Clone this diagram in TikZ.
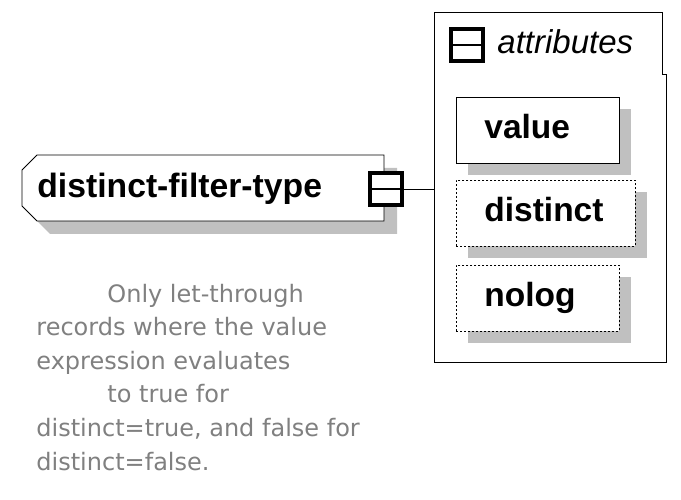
\documentclass[tikz,border=0pt]{standalone}
\usepackage{fontspec}
\setmainfont{Liberation Sans}
\newfontfamily\notefont{DejaVu Sans}
\usetikzlibrary{positioning,shadows}
\definecolor{shadowgray}{HTML}{C0C0C0}
\definecolor{notegray}{HTML}{808080}
\tikzset{
	minusbox/.style={draw, line width=4pt, fill=white, minimum size=32pt, inner sep=0pt},
	minusbar/.style={line width=2.5pt},
	attrbox/.style={draw, fill=white, anchor=north west, align=left, text width=#1, inner xsep=28pt, inner ysep=0pt, minimum height=66pt, text height=24pt, text depth=7pt, font=\fontsize{33.5}{40}\selectfont\bfseries, drop shadow={shadow xshift=12pt, shadow yshift=-12pt, fill=shadowgray, opacity=1}},
	optional/.style={dash pattern=on 2pt off 2pt},
}

\begin{document}
\begin{tikzpicture}[x=1pt,y=-1pt,line width=0.8pt]
		\useasboundingbox[fill=white] (0,0) rectangle (681,500);
		
		% Type
		\filldraw[fill=white, preaction={fill=shadowgray, transform canvas={xshift=13pt, yshift=-13pt}}] (37,155) -- (384,155) -- (384,221) -- (37,221) -- (22,206) -- (22,170) -- cycle;
		\node[anchor=base west, inner sep=0pt, font=\fontsize{33.7}{40}\selectfont\bfseries] (typename) at (37,198) {distinct-filter-type};
		\node[minusbox] (typeminus) at (386,189) {};
		\draw[minusbar] ([xshift=4pt]typeminus.west) -- ([xshift=-4pt]typeminus.east);
		
		% Attributes
		\draw (434,12) -- (662,12) -- (662,74) -- (666,74) -- (666,362) -- (434,362) -- cycle;
		\coordinate (attrsin) at (434,189);
		\node[minusbox] (attrsminus) at (467,45) {};
		\draw[minusbar] ([xshift=4pt]attrsminus.west) -- ([xshift=-4pt]attrsminus.east);
		\node[anchor=base west, inner sep=0pt, font=\fontsize{33}{40}\selectfont\itshape] (attrslabel) at (497,54) {attributes};
		
		\node[attrbox=107pt] (value) at (456,97) {value};
		\node[attrbox=123pt, optional] (distinct) at (456,180) {distinct};
		\node[attrbox=107pt, optional] (nolog) at (456,265) {nolog};
		
		% Line from type to attributes
		\draw (typeminus.east) -- (attrsin);
		
		% Note
		\node[anchor=base west, inner sep=0pt, align=left, text=notegray, font=\notefont\fontsize{24}{33.6}\selectfont] (typenote) at (36,470) {\hspace*{71pt}Only let-through\\records where the value\\expression evaluates\\\hspace*{71pt}to true for\\distinct=true, and false for\\distinct=false.};
	\end{tikzpicture}
\end{document}
